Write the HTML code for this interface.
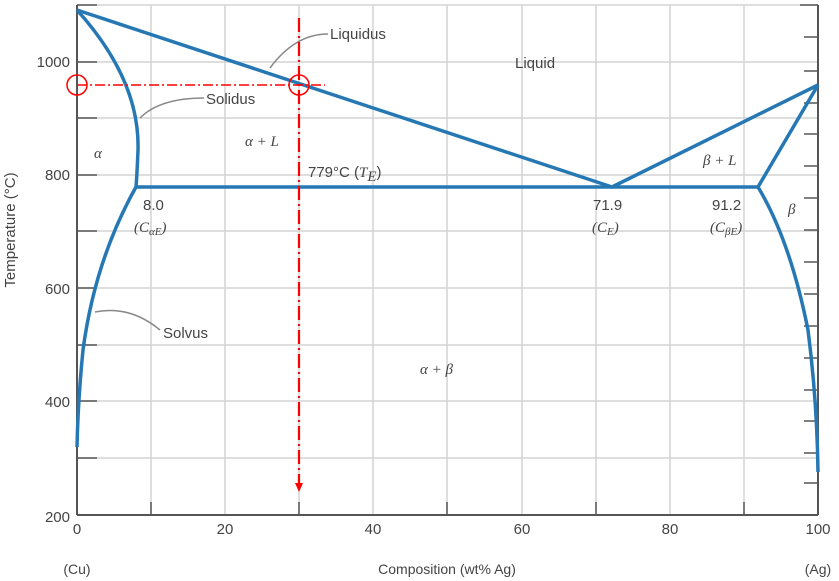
<!DOCTYPE html>
<html><head><meta charset="utf-8"><style>
html,body{margin:0;padding:0;background:#fff;}
svg{display:block;font-family:"Liberation Sans",sans-serif;}
.t{font-size:15px;fill:#444;}
.m{font-family:"Liberation Serif",serif;font-style:italic;font-size:15px;fill:#444;}
</style></head><body>
<svg width="839" height="581" viewBox="0 0 839 581" xmlns="http://www.w3.org/2000/svg">
<g stroke="#d4d4d4" stroke-width="1.5">
<line x1="151" y1="5" x2="151" y2="515"/><line x1="225" y1="5" x2="225" y2="515"/><line x1="299" y1="5" x2="299" y2="515"/><line x1="373" y1="5" x2="373" y2="515"/><line x1="447" y1="5" x2="447" y2="515"/><line x1="522" y1="5" x2="522" y2="515"/><line x1="596" y1="5" x2="596" y2="515"/><line x1="670" y1="5" x2="670" y2="515"/><line x1="744" y1="5" x2="744" y2="515"/>
<line x1="77" y1="5" x2="818" y2="5"/><line x1="77" y1="62" x2="818" y2="62"/><line x1="77" y1="118" x2="818" y2="118"/><line x1="77" y1="175" x2="818" y2="175"/><line x1="77" y1="231" x2="818" y2="231"/><line x1="77" y1="288" x2="818" y2="288"/><line x1="77" y1="345" x2="818" y2="345"/><line x1="77" y1="401" x2="818" y2="401"/><line x1="77" y1="458" x2="818" y2="458"/>
</g>
<g stroke="#555" stroke-width="2">
<line x1="77" y1="5" x2="77" y2="515"/><line x1="818" y1="5" x2="818" y2="515"/><line x1="77" y1="515" x2="818" y2="515"/>
</g>
<g stroke="#555" stroke-width="1.5">
<line x1="77" y1="5" x2="97" y2="5"/><line x1="77" y1="62" x2="97" y2="62"/><line x1="77" y1="118" x2="97" y2="118"/><line x1="77" y1="175" x2="97" y2="175"/><line x1="77" y1="231" x2="97" y2="231"/><line x1="77" y1="288" x2="97" y2="288"/><line x1="77" y1="345" x2="97" y2="345"/><line x1="77" y1="401" x2="97" y2="401"/><line x1="77" y1="458" x2="97" y2="458"/>
<line x1="818" y1="5" x2="800" y2="5"/><line x1="818" y1="37" x2="804" y2="37"/><line x1="818" y1="71" x2="804" y2="71"/><line x1="818" y1="103" x2="804" y2="103"/><line x1="818" y1="134" x2="804" y2="134"/><line x1="818" y1="166" x2="804" y2="166"/><line x1="818" y1="198" x2="804" y2="198"/><line x1="818" y1="230" x2="804" y2="230"/><line x1="818" y1="262" x2="804" y2="262"/><line x1="818" y1="294" x2="804" y2="294"/><line x1="818" y1="326" x2="804" y2="326"/><line x1="818" y1="358" x2="804" y2="358"/><line x1="818" y1="390" x2="804" y2="390"/><line x1="818" y1="421" x2="804" y2="421"/><line x1="818" y1="453" x2="804" y2="453"/><line x1="818" y1="483" x2="804" y2="483"/>
<line x1="151" y1="515" x2="151" y2="502"/><line x1="299" y1="515" x2="299" y2="502"/><line x1="447" y1="515" x2="447" y2="502"/><line x1="596" y1="515" x2="596" y2="502"/><line x1="744" y1="515" x2="744" y2="502"/>
</g>
<g fill="none" stroke="#2678b4" stroke-width="3.5" stroke-linejoin="round">
<path d="M77,10 L612,187 L818,85"/>
<path d="M77,10 Q140,80 138,150 Q137,175 136,187"/>
<path d="M136,187 Q95,260 83,350 Q78,400 77,447"/>
<line x1="136" y1="187" x2="758" y2="187"/>
<path d="M818,85 L758,187 Q790,240 808,330 Q817,400 818,472"/>
</g>
<g fill="none" stroke="#888" stroke-width="1.5">
<path d="M328,34 Q295,34 270,68"/><path d="M204,98 Q160,98 140,118"/><path d="M160,330 Q130,305 95,312"/>
</g>
<g fill="none" stroke="#f00" stroke-width="1.5">
<line x1="299" y1="18" x2="299" y2="484" stroke-width="2.2" stroke-dasharray="14,4,2,4"/>
<line x1="77" y1="85" x2="325" y2="85" stroke-dasharray="10,3,2,3"/>
<circle cx="77" cy="85" r="10"/><circle cx="299" cy="85" r="10"/>
</g>
<polygon points="295,483 303,483 299,492" fill="#f00"/>
<text class="t" x="330" y="39">Liquidus</text>
<text class="t" x="515" y="68">Liquid</text>
<text class="t" x="206" y="104">Solidus</text>
<text class="t" x="163" y="338">Solvus</text>
<text class="m" x="94" y="158">α</text>
<text class="m" x="245" y="146">α  + L</text>
<text class="t" x="308" y="177">779°C (<tspan class="m">T</tspan><tspan class="m" font-size="11" dy="4">E</tspan><tspan dy="-4">)</tspan></text>
<text class="m" x="703" y="165">β + L</text>
<text class="m" x="788" y="214">β</text>
<text class="m" x="420" y="374">α  + β</text>
<text class="t" x="143" y="210">8.0</text>
<text class="m" x="134" y="232">(C<tspan font-size="11" dy="3">αE</tspan><tspan dy="-3">)</tspan></text>
<text class="t" x="593" y="210">71.9</text>
<text class="m" x="592" y="232">(C<tspan font-size="11" dy="3">E</tspan><tspan dy="-3">)</tspan></text>
<text class="t" x="712" y="210">91.2</text>
<text class="m" x="710" y="232">(C<tspan font-size="11" dy="3">βE</tspan><tspan dy="-3">)</tspan></text>
<g class="t" text-anchor="end">
<text x="70" y="67">1000</text><text x="70" y="180">800</text><text x="70" y="294">600</text><text x="70" y="407">400</text><text x="70" y="522">200</text>
</g>
<g class="t" text-anchor="middle">
<text x="77" y="534">0</text><text x="225" y="534">20</text><text x="373" y="534">40</text><text x="522" y="534">60</text><text x="670" y="534">80</text><text x="818" y="534">100</text>
<text x="77" y="574" font-size="14">(Cu)</text><text x="447" y="574" font-size="14">Composition (wt% Ag)</text><text x="818" y="574" font-size="14">(Ag)</text>
</g>
<text class="t" font-size="14" transform="translate(15,230) rotate(-90)" text-anchor="middle">Temperature (°C)</text>
</svg>
</body></html>
